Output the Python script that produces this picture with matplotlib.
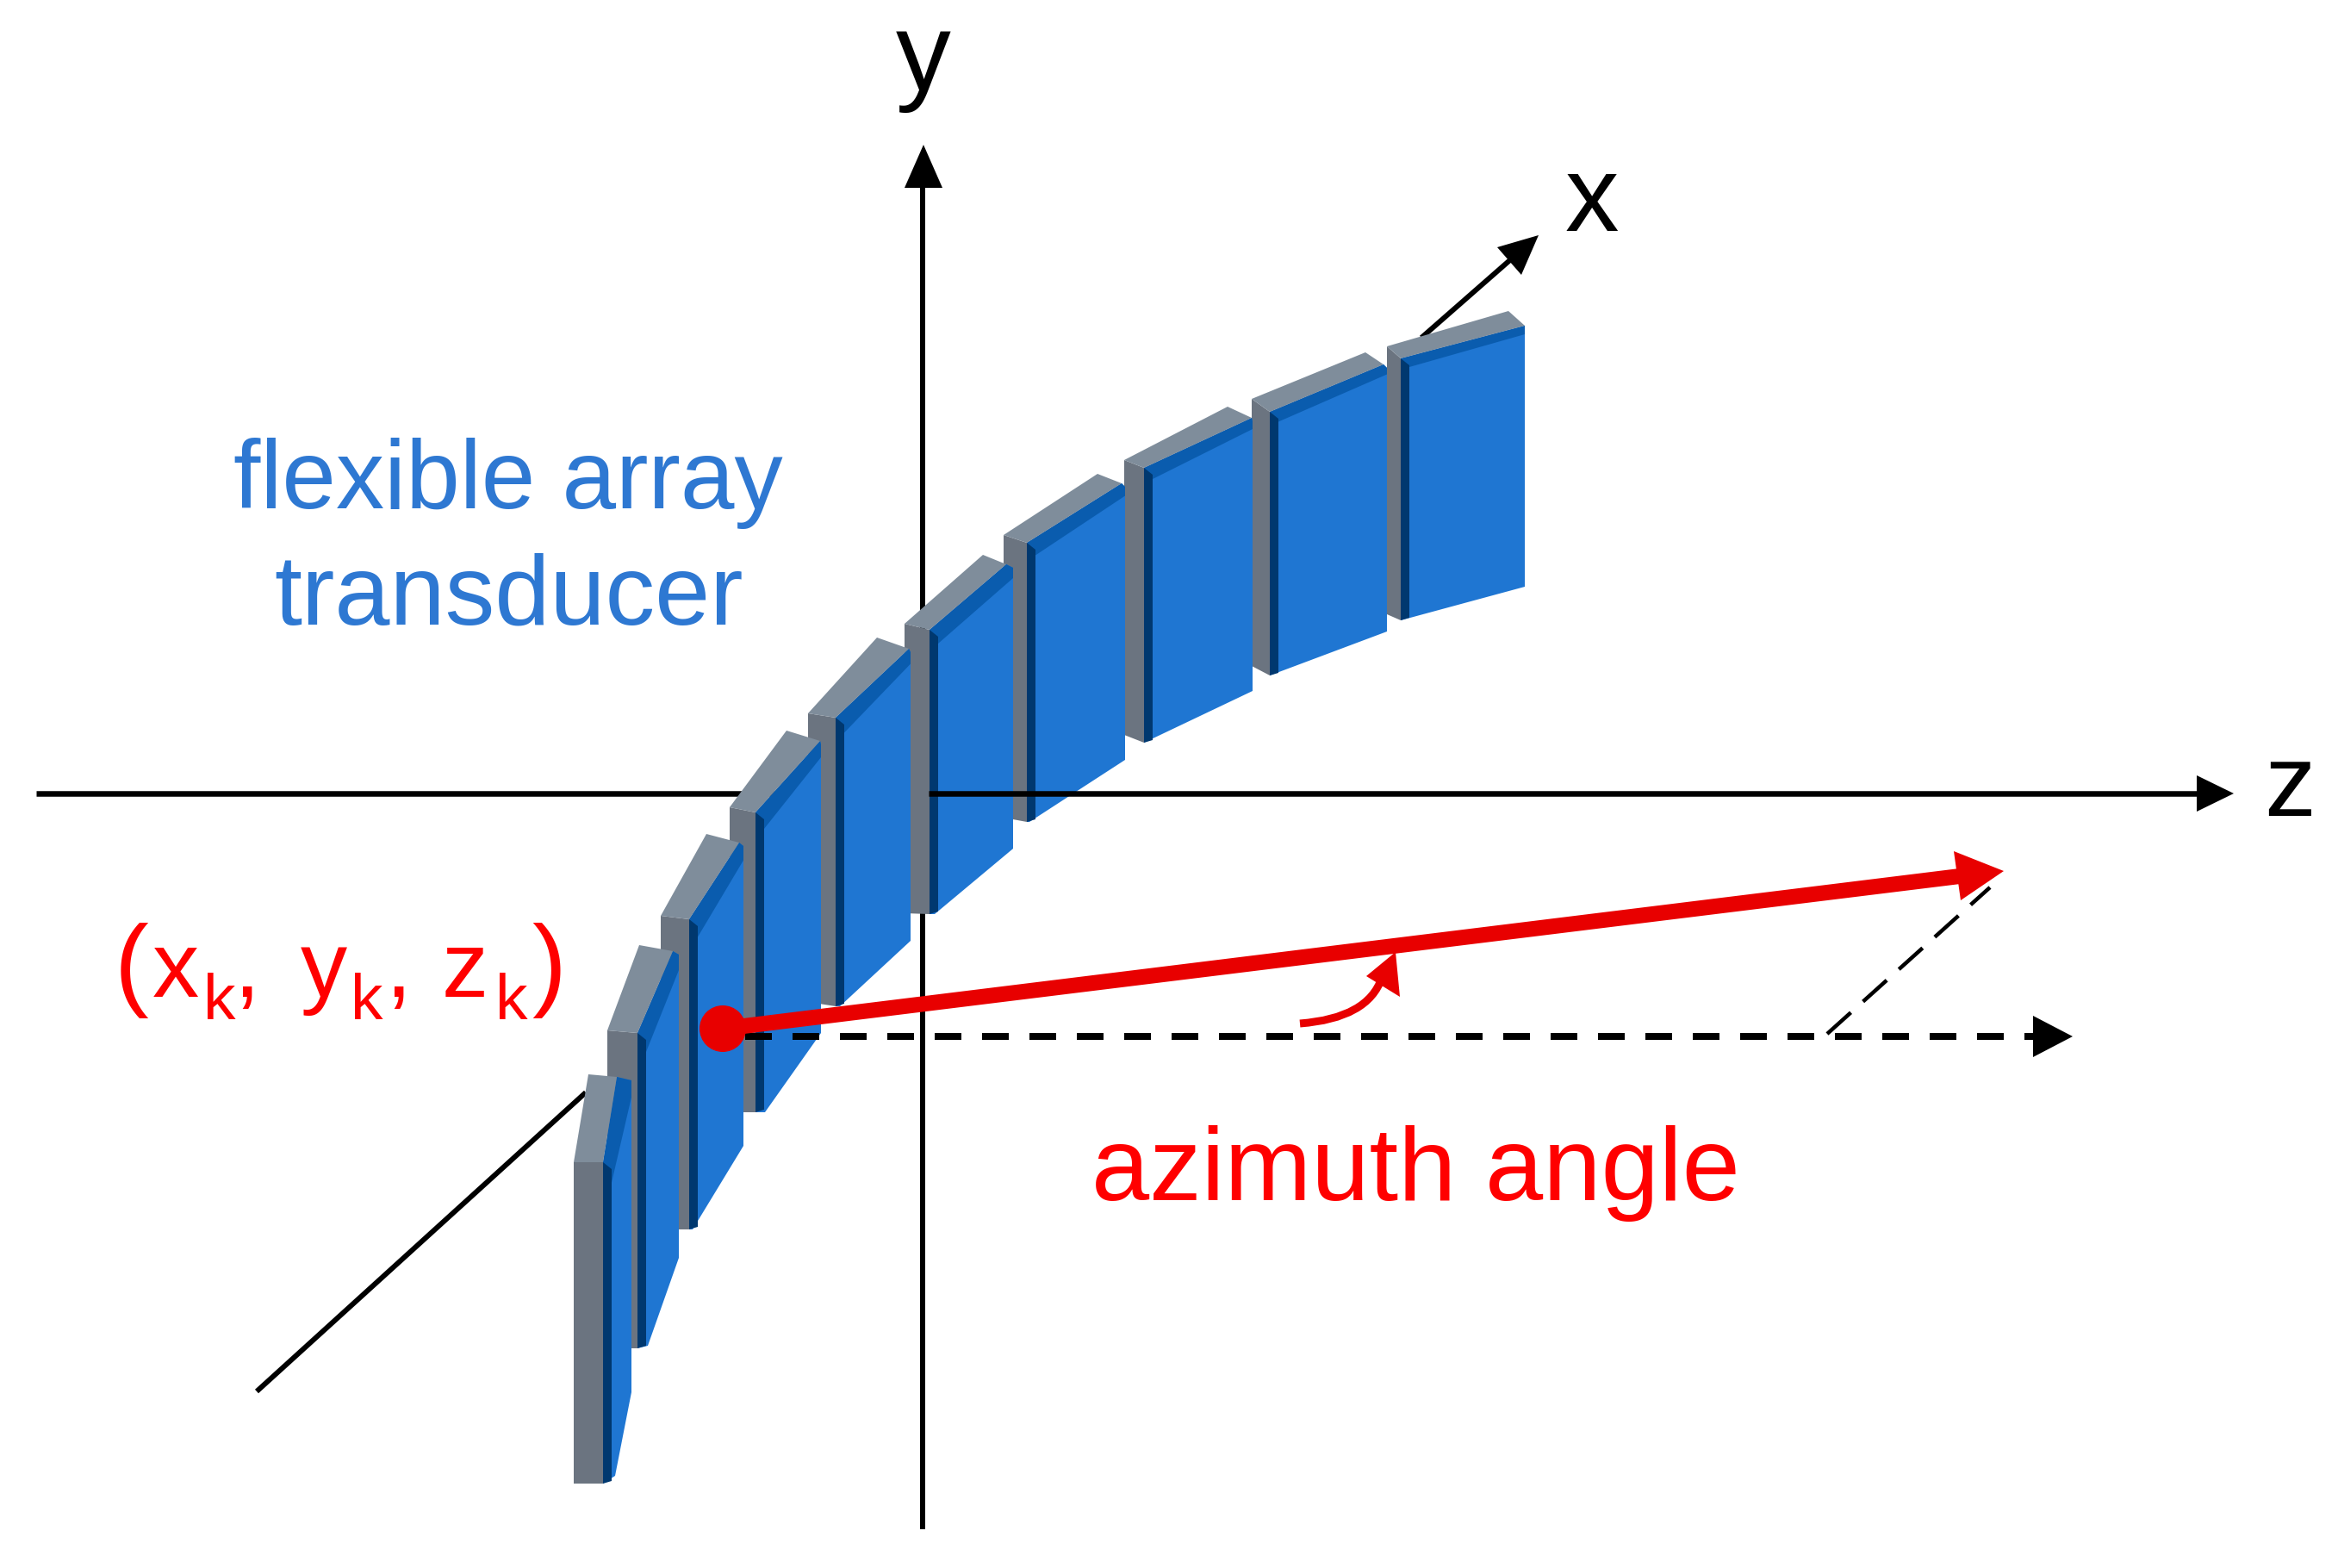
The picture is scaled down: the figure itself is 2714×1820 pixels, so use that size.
import matplotlib
matplotlib.use('Agg')
import matplotlib.pyplot as plt
from matplotlib.patches import Polygon, Circle, PathPatch
from matplotlib.path import Path

plt.rcParams['font.family'] = ['Liberation Sans', 'DejaVu Sans']

# array elements, right to left, in pixel coordinates of the picture
gray_x0 = [1610, 1453, 1305, 1165, 1050, 938, 847, 767, 705, 666]
gray_x1 = [1626, 1474, 1328, 1192, 1079, 970, 877, 800, 740, 700]
gray_top = [402, 463, 534, 621, 724, 828, 937, 1063, 1196, 1349]
gray_top_r = [416, 478, 543, 630, 731, 833, 943, 1067, 1199, 1349]
gray_bot = [713, 773, 853, 949, 1060, 1163, 1291, 1427, 1565, 1722]
back_x = [1751, 1585, 1425, 1274, 1141, 1018, 913, 820, 742, 683]
back_y = [361, 409, 472, 550, 644, 740, 848, 968, 1097, 1247]
corner_x = [1770, 1606, 1453, 1302, 1168, 1055, 952, 858, 781, 716]
corner_y = [378, 423, 485, 561, 655, 753, 860, 978, 1104, 1250]
right_x = [1770, 1610, 1454, 1306, 1176, 1057, 953, 863, 788, 733]
right_bot = [681, 733, 802, 882, 985, 1092, 1199, 1330, 1460, 1616]
bot_x = [1626, 1474, 1328, 1195, 1085, 975, 888, 804, 752, 714]
bot_y = [720, 784, 862, 954, 1061, 1168, 1291, 1427, 1562, 1713]

# the point label, one piece per glyph group
point_main = ['(', 'x', ',', 'y', ',', 'z', ')']
point_main_x = [133, 177, 271, 349, 447, 513, 617]
point_sub = ['k', 'k', 'k']
point_sub_x = [236, 407, 575]

c_blue = '#1F76D2'
c_dark = '#00386F'
c_band = '#0A5CAE'
c_front = '#6B7480'
c_top = '#7F8D9B'
c_red = '#E80000'
c_text_red = '#FF0000'
c_text_blue = '#2E78D2'


def lw(px):
    return px * 0.72


def head(ax, tip, p1, p2, color, z):
    ax.add_patch(Polygon([tip, p1, p2], closed=True, fc=color, ec='none', zorder=z))


fig = plt.figure(figsize=(27.14, 18.2), dpi=100)
ax = fig.add_axes([0, 0, 1, 1])
ax.set_xlim(0, 2714)
ax.set_ylim(1820, 0)
ax.axis('off')

# axes behind the array
ax.plot([1071, 1071], [1775, 200], color='k', lw=lw(6), zorder=1, solid_capstyle='butt')
head(ax, (1072, 168), (1050, 218), (1094, 218), 'k', 1)
ax.plot([42, 900], [921, 921], color='k', lw=lw(6.5), zorder=1, solid_capstyle='butt')
ax.plot([298, 680], [1615, 1268], color='k', lw=lw(6), zorder=1, solid_capstyle='butt')
ax.plot([1650, 1755], [392, 300], color='k', lw=lw(6), zorder=1, solid_capstyle='butt')
head(ax, (1786, 273), (1738, 287), (1766, 319), 'k', 1)

# the elements, left ones sit on top of right ones
for i in range(len(gray_x0)):
    z = 2 + i
    x0, x1 = gray_x0[i], gray_x1[i]
    yt, ytr = gray_top[i], gray_top_r[i]
    cx, cy = corner_x[i], corner_y[i]
    t = 10 + i * 1.5
    low = max(gray_bot[i], bot_y[i])
    ax.add_patch(Polygon([(x1, ytr), (cx, cy), (right_x[i], cy + 4), (right_x[i], right_bot[i]),
                          (bot_x[i], bot_y[i]), (x1, low)],
                         closed=True, fc=c_blue, ec='none', zorder=z))
    ax.add_patch(Polygon([(x1, ytr), (cx, cy), (right_x[i], cy + 4), (right_x[i], cy + t), (x1 + 10, ytr + t)],
                         closed=True, fc=c_band, ec='none', zorder=z))
    ax.add_patch(Polygon([(x1, ytr), (x1 + 10, ytr + 8), (x1 + 10, low - 3), (x1, low)],
                         closed=True, fc=c_dark, ec='none', zorder=z))
    ax.add_patch(Polygon([(x0, yt), (x1, ytr), (x1, low), (x0, gray_bot[i])],
                         closed=True, fc=c_front, ec='none', zorder=z))
    ax.add_patch(Polygon([(x0, yt), (back_x[i], back_y[i]), (cx, cy), (x1, ytr)],
                         closed=True, fc=c_top, ec='none', zorder=z))

# z axis runs over the right hand elements
ax.plot([1078, 2560], [921, 921], color='k', lw=lw(6.5), zorder=20, solid_capstyle='butt')
head(ax, (2593, 921), (2550, 900), (2550, 942), 'k', 20)

# dashed projection
ax.plot([865, 2365], [1203, 1203], color='k', lw=lw(8), zorder=21, dashes=(31 / 8, 24 / 8), dash_capstyle='butt')
head(ax, (2406, 1203), (2360, 1179), (2360, 1227), 'k', 21)
ax.plot([2121, 2310], [1200, 1030], color='k', lw=lw(4.5), zorder=21, dashes=(37 / 4.5, 19 / 4.5), dash_capstyle='butt')

# red vector and angle
ax.plot([839, 2275], [1194, 1017], color=c_red, lw=lw(18), zorder=22, solid_capstyle='butt')
head(ax, (2326, 1011), (2268, 988), (2276, 1045), c_red, 22)
ax.add_patch(Circle((839, 1194), 27, fc=c_red, ec='none', zorder=23))
curve = Path([(1509, 1188), (1588, 1182), (1604, 1135)], [Path.MOVETO, Path.CURVE3, Path.CURVE3])
ax.add_patch(PathPatch(curve, fc='none', ec=c_red, lw=lw(9), zorder=22, capstyle='butt'))
head(ax, (1620, 1105), (1586, 1133), (1625, 1157), c_red, 22)

# labels
ax.text(1072, 104, 'y', fontsize=92, color='k', ha='center', va='baseline')
ax.text(1848, 268, 'x', fontsize=90, color='k', ha='center', va='baseline')
ax.text(2628, 947, 'z', fontsize=86, color='k', ha='left', va='baseline')
ax.text(590, 590, 'flexible array', fontsize=81, color=c_text_blue, ha='center', va='baseline')
ax.text(590, 725, 'transducer', fontsize=83, color=c_text_blue, ha='center', va='baseline')
ax.text(1267, 1393, 'azimuth angle', fontsize=87, color=c_text_red, ha='left', va='baseline')
for s, x in zip(point_main, point_main_x):
    size = 86 if s in '()' else 78
    ax.text(x, 1157, s, fontsize=size, color=c_text_red, ha='left', va='baseline')
for s, x in zip(point_sub, point_sub_x):
    ax.text(x, 1183, s, fontsize=54, color=c_text_red, ha='left', va='baseline')

fig.savefig('out.png', dpi=100, facecolor='white')
